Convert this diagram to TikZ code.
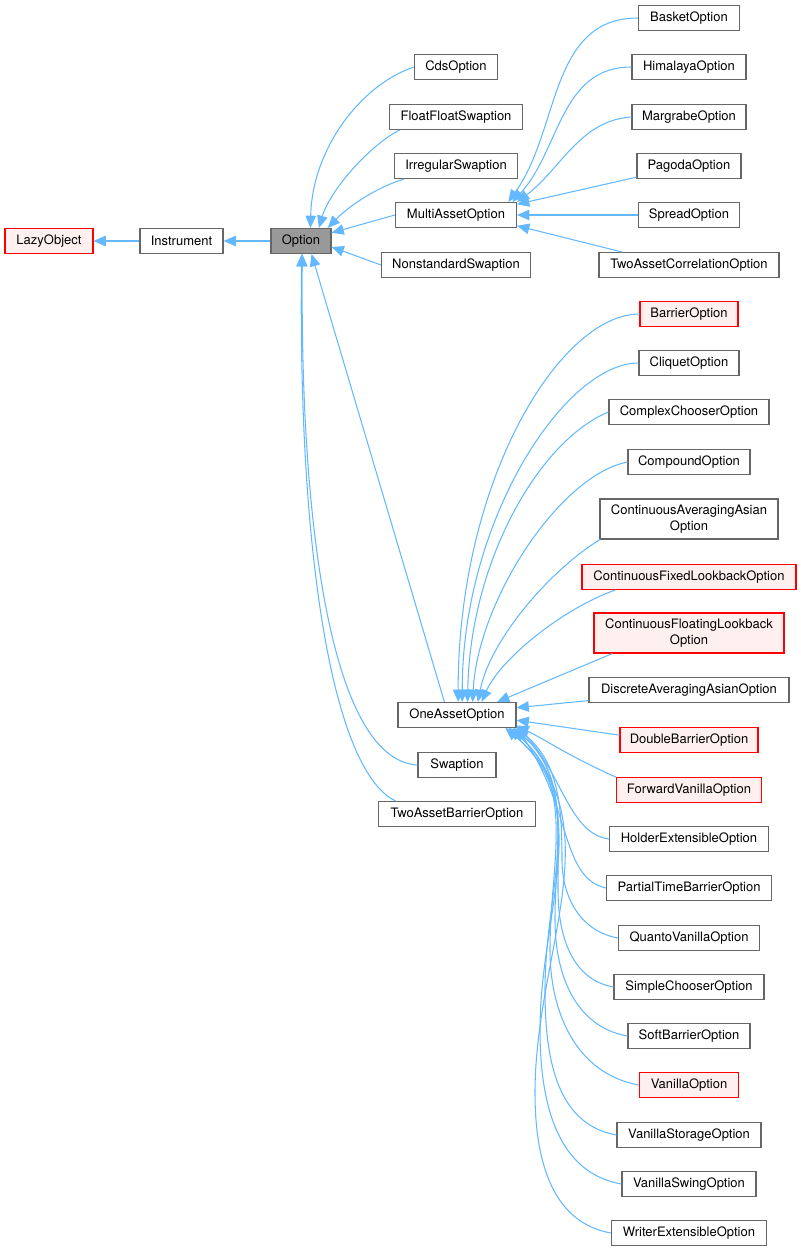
\documentclass[tikz,border=0pt]{standalone}
\usepackage{fontspec}
\setmainfont{TeX Gyre Heros}
\usetikzlibrary{arrows.meta}

\definecolor{edgeblue}{HTML}{63B8FF}
\definecolor{boxgray}{HTML}{666666}
\definecolor{optfill}{HTML}{999999}
\definecolor{redfill}{HTML}{FFF0F0}

\begin{document}
\begin{tikzpicture}[x=0.02cm, y=-0.02cm, font=\fontsize{7.4}{8.6}\selectfont,
	cls/.style={draw=boxgray, fill=white, line width=0.6pt, inner sep=0pt, minimum height=0.5cm},
	redcls/.style={cls, draw=red, fill=redfill},
	curcls/.style={cls, fill=optfill},
	twoline/.style={align=center, minimum height=0.8cm},
	inherit/.style={draw=edgeblue, line width=0.6pt, -{Triangle[length=7pt, width=6pt]}}]
	\useasboundingbox (0, 0) rectangle (801, 1252);
	% The base classes
	\node[redcls, minimum width=1.76cm] (LazyObject) at (49, 241) {LazyObject};
	\node[cls, minimum width=1.66cm] (Instrument) at (181.5, 241) {Instrument};
	\node[curcls, minimum width=1.2cm] (Option) at (301, 241) {Option};
	% Direct children of Option
	\node[cls, minimum width=1.66cm] (CdsOption) at (456, 67) {CdsOption};
	\node[cls, minimum width=2.66cm] (FloatFloatSwaption) at (456, 117) {FloatFloatSwaption};
	\node[cls, minimum width=2.46cm] (IrregularSwaption) at (456, 166) {IrregularSwaption};
	\node[cls, minimum width=2.42cm] (MultiAssetOption) at (456, 215) {MultiAssetOption};
	\node[cls, minimum width=2.98cm] (NonstandardSwaption) at (456, 265) {NonstandardSwaption};
	\node[cls, minimum width=2.36cm] (OneAssetOption) at (457, 715) {OneAssetOption};
	\node[cls, minimum width=1.56cm] (Swaption) at (457, 765) {Swaption};
	\node[cls, minimum width=3.14cm] (TwoAssetBarrierOption) at (457, 814) {TwoAssetBarrierOption};
	% Children of MultiAssetOption
	\node[cls, minimum width=2.02cm] (BasketOption) at (689, 18) {BasketOption};
	\node[cls, minimum width=2.28cm] (HimalayaOption) at (689, 67) {HimalayaOption};
	\node[cls, minimum width=2.28cm] (MargrabeOption) at (689, 117) {MargrabeOption};
	\node[cls, minimum width=2.08cm] (PagodaOption) at (689, 166) {PagodaOption};
	\node[cls, minimum width=2.02cm] (SpreadOption) at (689, 215) {SpreadOption};
	\node[cls, minimum width=3.6cm] (TwoAssetCorrelationOption) at (689, 265) {TwoAssetCorrelationOption};
	% Children of OneAssetOption
	\node[redcls, minimum width=1.96cm] (BarrierOption) at (689, 314) {BarrierOption};
	\node[cls, minimum width=2.0cm] (CliquetOption) at (689, 363) {CliquetOption};
	\node[cls, minimum width=3.2cm] (ComplexChooserOption) at (689, 412) {ComplexChooserOption};
	\node[cls, minimum width=2.44cm] (CompoundOption) at (689, 462) {CompoundOption};
	\node[cls, twoline, minimum width=3.56cm] (ContinuousAveragingAsianOption) at (689, 519) {ContinuousAveragingAsian\\Option};
	\node[redcls, minimum width=4.28cm] (ContinuousFixedLookbackOption) at (689, 577) {ContinuousFixedLookbackOption};
	\node[redcls, twoline, minimum width=3.8cm] (ContinuousFloatingLookbackOption) at (689, 633) {ContinuousFloatingLookback\\Option};
	\node[cls, minimum width=4.0cm] (DiscreteAveragingAsianOption) at (689, 690) {DiscreteAveragingAsianOption};
	\node[redcls, minimum width=2.76cm] (DoubleBarrierOption) at (689, 740) {DoubleBarrierOption};
	\node[redcls, minimum width=2.9cm] (ForwardVanillaOption) at (689, 790) {ForwardVanillaOption};
	\node[cls, minimum width=3.18cm] (HolderExtensibleOption) at (689, 839) {HolderExtensibleOption};
	\node[cls, minimum width=3.3cm] (PartialTimeBarrierOption) at (689, 888) {PartialTimeBarrierOption};
	\node[cls, minimum width=2.82cm] (QuantoVanillaOption) at (689, 938) {QuantoVanillaOption};
	\node[cls, minimum width=3.0cm] (SimpleChooserOption) at (689, 987) {SimpleChooserOption};
	\node[cls, minimum width=2.44cm] (SoftBarrierOption) at (689, 1036) {SoftBarrierOption};
	\node[redcls, minimum width=1.98cm] (VanillaOption) at (689, 1085) {VanillaOption};
	\node[cls, minimum width=2.88cm] (VanillaStorageOption) at (689, 1135) {VanillaStorageOption};
	\node[cls, minimum width=2.68cm] (VanillaSwingOption) at (689, 1184) {VanillaSwingOption};
	\node[cls, minimum width=3.1cm] (WriterExtensibleOption) at (689, 1233) {WriterExtensibleOption};
	% Inheritance of the base classes
	\draw[inherit] (Instrument) -- (LazyObject);
	\draw[inherit] (Option) -- (Instrument);
	% Inheritance from Option
	\draw[inherit] (CdsOption.west) .. controls (360, 85) and (312, 150) .. (Option.54);
	\draw[inherit] (FloatFloatSwaption.193) .. controls (370, 145) and (330, 190) .. (Option.36);
	\draw[inherit] (IrregularSwaption.194) .. controls (370, 190) and (345, 210) .. (Option.26);
	\draw[inherit] (MultiAssetOption.west) -- (Option.15);
	\draw[inherit] (NonstandardSwaption.west) -- (Option.-11);
	\draw[inherit] (OneAssetOption.134) -- (Option.-51);
	\draw[inherit] (Swaption.west) .. controls (330, 760) and (300, 520) .. (Option.-84);
	\draw[inherit] (TwoAssetBarrierOption.168) .. controls (330, 770) and (298, 540) .. (Option.-87);
	% Inheritance from MultiAssetOption
	\draw[inherit] (BasketOption.west) .. controls (549, 18) and (560, 130) .. (MultiAssetOption.14);
	\draw[inherit] (HimalayaOption.west) .. controls (560, 67) and (560, 150) .. (MultiAssetOption.13);
	\draw[inherit] (MargrabeOption.west) .. controls (580, 120) and (560, 170) .. (MultiAssetOption.12);
	\draw[inherit] (PagodaOption.192) -- (MultiAssetOption.10);
	\draw[inherit] (SpreadOption.west) -- (MultiAssetOption.east);
	\draw[inherit] (TwoAssetCorrelationOption.169) -- (MultiAssetOption.-10);
	% Inheritance from OneAssetOption, upper part
	\draw[inherit] (BarrierOption.west) .. controls (560, 314) and (458, 480) .. (OneAssetOption.85);
	\draw[inherit] (CliquetOption.west) .. controls (565, 363) and (462, 520) .. (OneAssetOption.68);
	\draw[inherit] (ComplexChooserOption.west) .. controls (540, 440) and (470, 560) .. (OneAssetOption.51);
	\draw[inherit] (CompoundOption.west) .. controls (560, 475) and (478, 600) .. (OneAssetOption.40);
	\draw[inherit] (ContinuousAveragingAsianOption.193) .. controls (550, 570) and (490, 640) .. (OneAssetOption.32);
	\draw[inherit] (ContinuousFixedLookbackOption.190) .. controls (560, 610) and (500, 660) .. (OneAssetOption.28);
	\draw[inherit] (ContinuousFloatingLookbackOption.195) -- (OneAssetOption.18);
	\draw[inherit] (DiscreteAveragingAsianOption.186) -- (OneAssetOption.7);
	\draw[inherit] (DoubleBarrierOption.176) -- (OneAssetOption.-5);
	% Inheritance from OneAssetOption, lower part
	\draw[inherit] (ForwardVanillaOption.170) .. controls +(-45, -20) and +(30, 15) .. (OneAssetOption.-10);
	\draw[inherit] (HolderExtensibleOption.west) .. controls +(-40, -5) and +(45, 45) .. (OneAssetOption.-11);
	\draw[inherit] (PartialTimeBarrierOption.west) .. controls +(-45, -10) and +(55, 80) .. (OneAssetOption.-12);
	\draw[inherit] (QuantoVanillaOption.west) to[out=170, in=-90] (562, 860) to[out=90, in=-40] (OneAssetOption.-12);
	\draw[inherit] (SimpleChooserOption.west) to[out=170, in=-90] (558, 890) to[out=90, in=-40] (OneAssetOption.-13);
	\draw[inherit] (SoftBarrierOption.west) to[out=170, in=-90] (555, 920) to[out=90, in=-40] (OneAssetOption.-13);
	\draw[inherit] (VanillaOption.west) to[out=170, in=-90] (550, 950) to[out=90, in=-40] (OneAssetOption.-14);
	\draw[inherit] (VanillaStorageOption.west) to[out=170, in=-90] (545, 990) to[out=90, in=-40] (OneAssetOption.-14);
	\draw[inherit] (VanillaSwingOption.west) to[out=170, in=-90] (540, 1030) to[out=90, in=-40] (OneAssetOption.-15);
	\draw[inherit] (WriterExtensibleOption.west) to[out=170, in=-90] (535, 1093) to[out=90, in=-40] (OneAssetOption.-15);
\end{tikzpicture}
\end{document}
